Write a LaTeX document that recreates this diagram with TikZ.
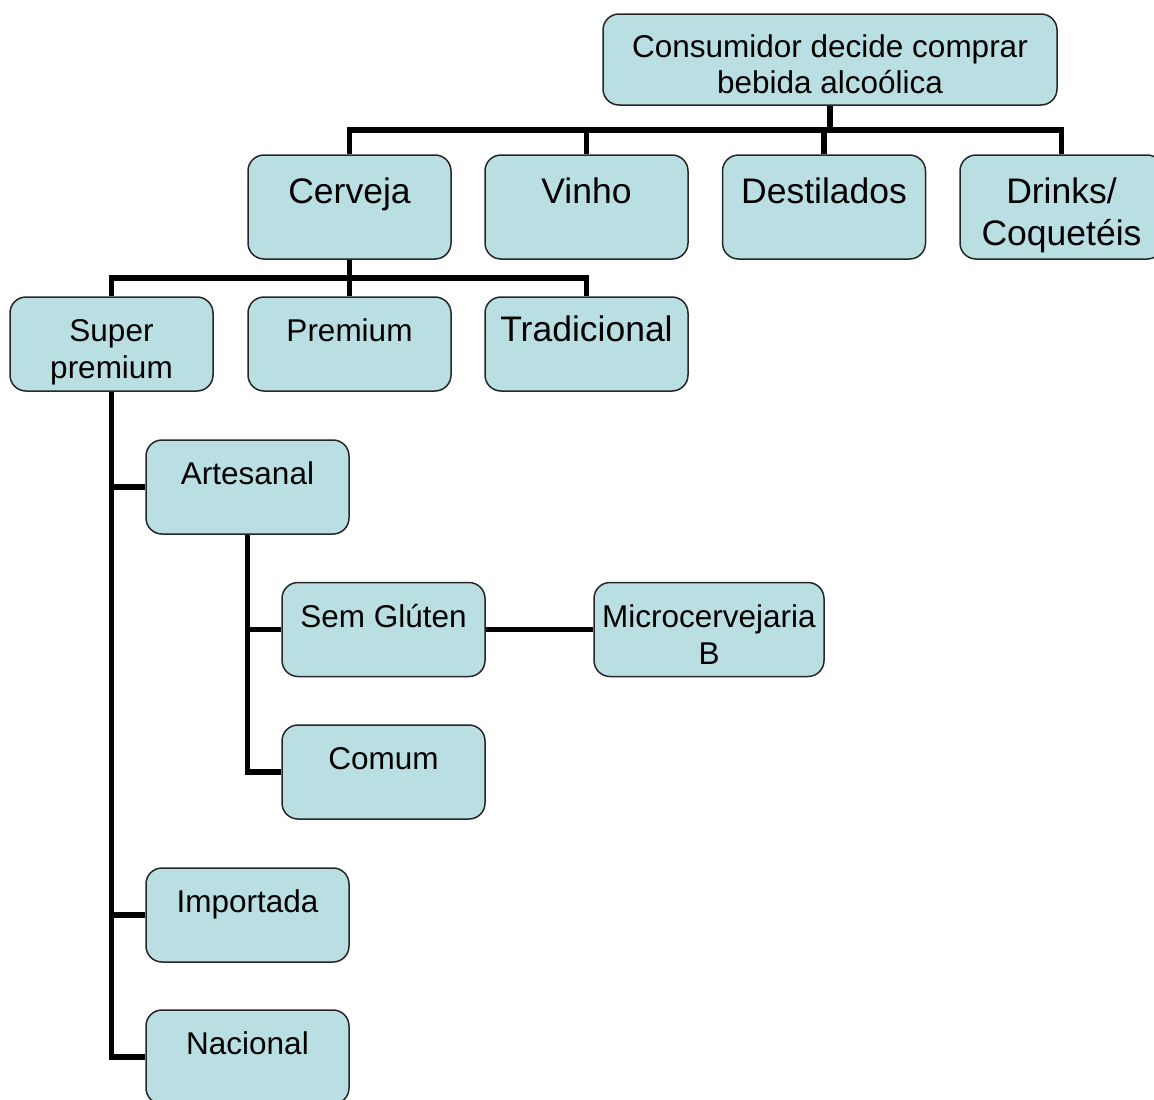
\documentclass[tikz,border=0pt]{standalone}
\usepackage{fontspec}
\setmainfont{Liberation Sans}
\definecolor{boxfill}{RGB}{186,223,227}

\begin{document}
\begin{tikzpicture}[x=1pt,y=-1pt,
  box/.style={draw=black!85,line width=1.5pt,fill=boxfill,rounded corners=16pt,
    minimum width=203pt,inner xsep=0pt,inner ysep=0pt,align=center,
    font=\fontsize{31.5}{37}\selectfont,text height=44.5pt,text depth=49.5pt},
  twolines/.style={text height=81.5pt,text depth=12.5pt},
  bigbox/.style={box,font=\fontsize{35.5}{42}\selectfont,text height=48pt,text depth=56pt},
  topbox/.style={box,minimum width=454pt,font=\fontsize{31.5}{35.5}\selectfont,
    text height=79pt,text depth=12pt},
  link/.style={line width=5.5pt}]
  \useasboundingbox (0,0) rectangle (1154,1100);
  \clip (0,0) rectangle (1154,1100);

  \node[topbox] (consumidor) at (830,59.5) {Consumidor decide comprar\\bebida alcoólica};

  \node[bigbox] (cerveja)    at (349.5,207) {Cerveja};
  \node[bigbox] (vinho)      at (586.5,207) {Vinho};
  \node[bigbox] (destilados) at (824,207)   {Destilados};
  \node[bigbox,text height=90pt,text depth=14pt] (drinks) at (1061.5,207) {Drinks/\\Coquetéis};

  \node[box,twolines] (superpremium) at (111.5,344) {Super\\premium};
  \node[box]    (premium)      at (349.5,344) {Premium};
  \node[box,font=\fontsize{35.5}{42}\selectfont] (tradicional) at (586.5,344) {Tradicional};

  \node[box] (artesanal) at (247.5,487)  {Artesanal};
  \node[box] (semgluten) at (383.5,629.5) {Sem Glúten};
  \node[box,twolines,minimum width=230pt] (microcervejaria) at (709,629.5) {Microcervejaria\\B};
  \node[box] (comum)     at (383.5,772)  {Comum};
  \node[box] (importada) at (247.5,915)  {Importada};
  \node[box] (nacional)  at (247.5,1057) {Nacional};

  \coordinate (busA) at (830,130);
  \coordinate (busB) at (349.5,278);

  \draw[link] (consumidor.south) -- (busA);
  \draw[link] (cerveja.north) |- (busA);
  \draw[link] (vinho.north) |- (busA);
  \draw[link] (destilados.north) |- (busA);
  \draw[link] (drinks.north) |- (busA);

  \draw[link] (cerveja.south) -- (busB);
  \draw[link] (superpremium.north) |- (busB);
  \draw[link] (premium.north) -- (busB);
  \draw[link] (tradicional.north) |- (busB);

  \draw[link] (superpremium.south) |- (artesanal.west);
  \draw[link] (superpremium.south) |- (importada.west);
  \draw[link] (superpremium.south) |- (nacional.west);

  \draw[link] (artesanal.south) |- (semgluten.west);
  \draw[link] (artesanal.south) |- (comum.west);

  \draw[link] (semgluten) -- (microcervejaria);
\end{tikzpicture}
\end{document}
